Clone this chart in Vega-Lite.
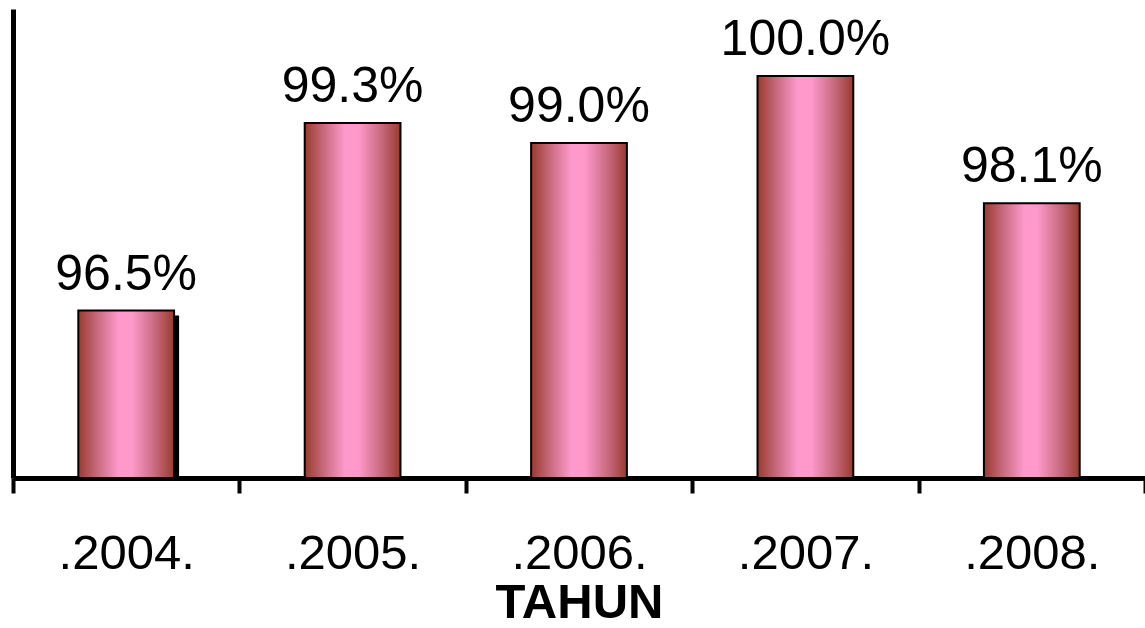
{
  "$schema": "https://vega.github.io/schema/vega-lite/v6.json",
  "width": 1132,
  "height": 469,
  "autosize": {"type": "none"},
  "padding": {"left": 13, "top": 9, "right": 0, "bottom": 150},
  "background": "white",
  "config": {
    "view": {"stroke": null},
    "font": "Liberation Sans"
  },
  "data": {
    "values": [
      {"tahun": ".2004.", "nilai": 0.965},
      {"tahun": ".2005.", "nilai": 0.993},
      {"tahun": ".2006.", "nilai": 0.990},
      {"tahun": ".2007.", "nilai": 1.000},
      {"tahun": ".2008.", "nilai": 0.981}
    ]
  },
  "encoding": {
    "x": {
      "field": "tahun",
      "type": "nominal",
      "sort": null,
      "scale": {"paddingInner": 0, "paddingOuter": 0},
      "axis": {
        "title": "TAHUN",
        "titleFontSize": 49,
        "titleFontWeight": "bold",
        "titleColor": "black",
        "titlePadding": 0,
        "labelFontSize": 49,
        "labelColor": "black",
        "labelAngle": 0,
        "labelPadding": 36,
        "domainColor": "black",
        "domainWidth": 5,
        "tickColor": "black",
        "tickWidth": 4,
        "tickSize": 15,
        "tickBand": "extent"
      }
    },
    "y": {
      "field": "nilai",
      "type": "quantitative",
      "scale": {"domain": [0.94, 1.01], "zero": false, "nice": false},
      "axis": {
        "title": null,
        "labels": false,
        "ticks": false,
        "grid": false,
        "domainColor": "black",
        "domainWidth": 5
      }
    }
  },
  "layer": [
    {
      "transform": [{"filter": "datum.tahun === '.2004.'"}],
      "mark": {"type": "bar", "color": "black", "xOffset": 5, "yOffset": 5, "width": {"band": 0.423}},
      "encoding": {"y2": {"datum": 0.94}}
    },
    {
      "mark": {
        "type": "bar",
        "width": {"band": 0.423},
        "stroke": "black",
        "strokeWidth": 2,
        "color": {
          "gradient": "linear",
          "x1": 0, "y1": 0, "x2": 1, "y2": 0,
          "stops": [
            {"offset": 0, "color": "#9a3a2e"},
            {"offset": 0.2, "color": "#c86a7e"},
            {"offset": 0.42, "color": "#ff99cc"},
            {"offset": 0.56, "color": "#ff99cc"},
            {"offset": 0.8, "color": "#c86a7e"},
            {"offset": 1, "color": "#9a3a2e"}
          ]
        }
      },
      "encoding": {"y2": {"datum": 0.94}}
    },
    {
      "mark": {"type": "text", "fontSize": 50, "baseline": "alphabetic", "dy": -21, "color": "black"},
      "encoding": {"text": {"field": "nilai", "type": "quantitative", "format": ".1%"}}
    }
  ]
}
